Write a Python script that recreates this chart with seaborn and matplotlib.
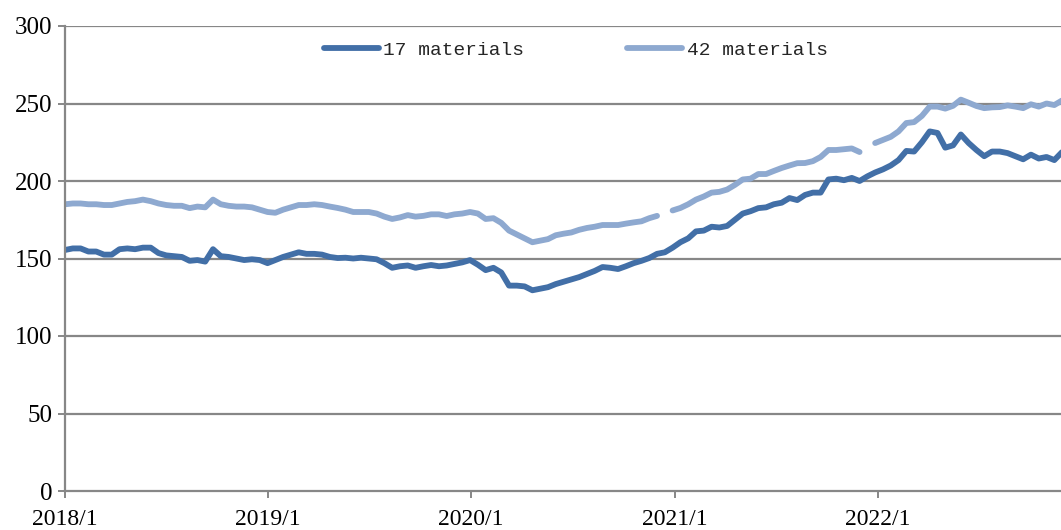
import pandas as pd
import numpy as np
import seaborn as sns
import matplotlib.pyplot as plt

# biweekly readings, first point 2018/1
mat17 = [155.5, 156.5, 156.5, 154.5, 154.5, 152.5, 152.5, 156, 156.5, 156,
         157, 157, 153.5, 152, 151.5, 151, 148.5, 149, 148, 156,
         151.5, 151, 150, 149, 149.5, 149, 147, 149, 151, 152.5,
         154, 153, 153, 152.5, 151, 150.3, 150.5, 150, 150.5, 150,
         149.5, 147, 144, 145, 145.5, 144, 145, 145.8, 145, 145.5,
         146.5, 147.5, 149, 146, 142.5, 144, 141, 132.5, 132.5, 132,
         129.5, 130.5, 131.5, 133.5, 135, 136.5, 138, 140, 142, 144.5,
         144, 143.2, 145, 147, 148.5, 150.3, 153, 154, 157, 160.5,
         163, 167.5, 168, 170.5, 170, 171, 175, 179, 180.5, 182.5,
         183, 185, 186, 189, 187.7, 191, 192.5, 192.5, 201, 201.5,
         200.5, 202, 200, 203, 205.5, 207.5, 210, 213.5, 219.4, 219,
         225, 232, 231, 221.5, 223, 230, 224.5, 220, 216, 219,
         219, 218, 216, 214, 217, 214.5, 215.5, 213.5, 218.7]

# NaN = missing week (line is broken there)
mat42 = [185, 185.5, 185.5, 185, 185, 184.5, 184.5, 185.5, 186.5, 187,
         188, 187, 185.5, 184.5, 184, 184, 182.5, 183.5, 183, 188,
         185, 184, 183.5, 183.5, 183, 181.5, 180, 179.5, 181.5, 183,
         184.5, 184.5, 185, 184.5, 183.5, 182.6, 181.5, 180, 180, 180,
         179, 177, 175.5, 176.5, 178, 177, 177.5, 178.5, 178.5, 177.4,
         178.5, 179, 180, 179, 175.5, 176, 173, 168, 165.5, 163,
         160.5, 161.5, 162.5, 165, 166, 166.8, 168.5, 169.7, 170.5, 171.6,
         171.6, 171.6, 172.5, 173.3, 174, 176, 177.5, np.nan, 181, 182.6,
         185, 188, 190, 192.5, 193, 194.5, 197.5, 201, 201.5, 204.5,
         204.5, 206.5, 208.4, 210, 211.5, 211.6, 212.8, 215.5, 220, 220,
         220.5, 221, 218.7, np.nan, 224.5, 226.5, 228.5, 232, 237.4, 238,
         242, 248, 248, 246.7, 248.5, 252.5, 250.5, 248.4, 247, 247.5,
         247.7, 248.8, 248, 247, 249.5, 248, 250, 249, 252]

year_ticks = ['2018-01-01', '2019-01-01', '2020-01-01', '2021-01-01', '2022-01-01']
year_labels = ['2018/1', '2019/1', '2020/1', '2021/1', '2022/1']
y_ticks = [0, 50, 100, 150, 200, 250, 300]

dates = pd.date_range('2018-01-01', periods=len(mat17), freq='14D')
df = pd.DataFrame({'Date': dates, '17 materials': mat17, '42 materials': mat42})
# split the 42 series into pieces at the missing weeks
df['seg'] = df['42 materials'].isna().cumsum()
df42 = df.dropna(subset=['42 materials'])

sns.set_style('white')
plt.rcParams['font.family'] = ['Liberation Serif', 'DejaVu Serif']

fig = plt.figure(figsize=(10.61, 5.30), dpi=100)
ax = fig.add_axes([65 / 1061, 39 / 530, 996 / 1061, 465 / 530])

grey = '#878787'
lw = 4.2
for v in y_ticks[1:]:
    ax.axhline(v, color=grey, lw=1.6, zorder=0)

sns.lineplot(x='Date', y='17 materials', data=df, ax=ax, color='#426FA7',
             lw=lw, label='17 materials', solid_capstyle='round', estimator=None)
sns.lineplot(x='Date', y='42 materials', data=df42, ax=ax, color='#8EA9D0',
             lw=lw, label='42 materials', solid_capstyle='round',
             units='seg', estimator=None)

ax.set_xlim(pd.Timestamp('2018-01-01'), pd.Timestamp('2022-11-26'))
ax.set_ylim(0, 300)
ax.set_xticks(pd.to_datetime(year_ticks))
ax.set_xticklabels(year_labels)
ax.set_yticks(y_ticks)
ax.set_xlabel('')
ax.set_ylabel('')

for s in ['top', 'right']:
    ax.spines[s].set_visible(False)
for s in ['left', 'bottom']:
    ax.spines[s].set_color(grey)
    ax.spines[s].set_linewidth(1.6)

ax.tick_params(axis='both', which='both', direction='out', length=5, width=1.4,
               color=grey, labelsize=17, colors='black')
ax.tick_params(axis='x', pad=8, bottom=True)
ax.tick_params(axis='y', pad=4, left=True, labelsize=18)

# one legend entry per series (units create several line pieces)
handles, labels = ax.get_legend_handles_labels()
seen = {}
for h, l in zip(handles, labels):
    if l not in seen:
        seen[l] = h
leg = ax.legend(list(seen.values()), list(seen.keys()),
                loc='center', bbox_to_anchor=(0.513, 0.948), ncol=2, frameon=False,
                handlelength=2.8, handletextpad=0.25, columnspacing=5.3,
                prop={'family': ['Liberation Mono', 'DejaVu Sans Mono'], 'size': 14})
for line in leg.get_lines():
    line.set_linewidth(lw)
    line.set_solid_capstyle('round')

fig.savefig('out.png', dpi=100)
